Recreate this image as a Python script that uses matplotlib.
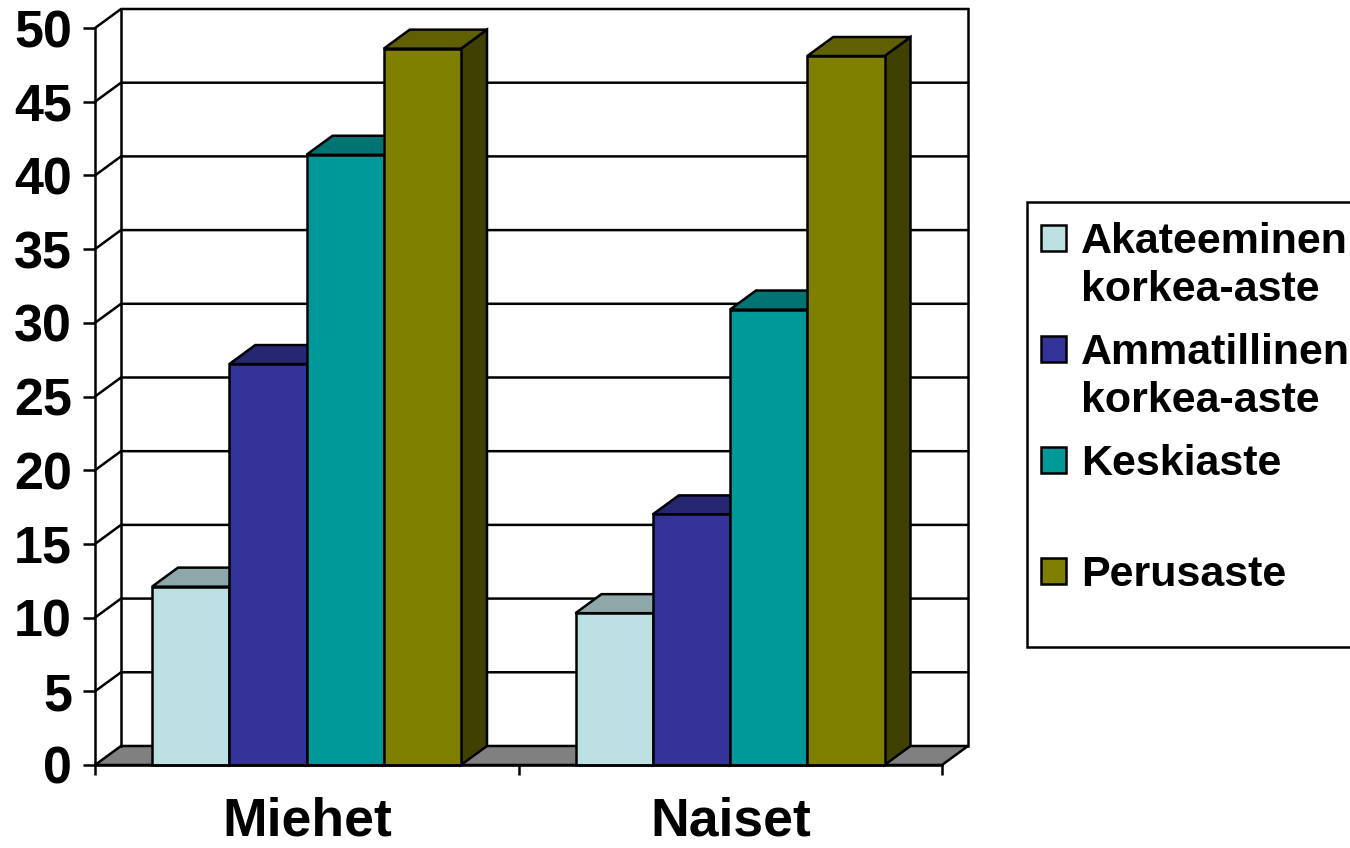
import matplotlib
matplotlib.use("Agg")
import matplotlib.pyplot as plt
from matplotlib.patches import Polygon, Rectangle

plt.rcParams['font.family'] = ['Liberation Sans', 'DejaVu Sans']

categories = ['Miehet', 'Naiset']
series = ['Akateeminen\nkorkea-aste', 'Ammatillinen\nkorkea-aste', 'Keskiaste', 'Perusaste']
values = {
    'Akateeminen\nkorkea-aste': [12.1, 10.3],
    'Ammatillinen\nkorkea-aste': [27.2, 17.0],
    'Keskiaste': [41.4, 30.9],
    'Perusaste': [48.6, 48.1],
}
y_ticks = [0, 5, 10, 15, 20, 25, 30, 35, 40, 45, 50]

front_colors = ['#BDE0E3', '#333399', '#009999', '#808000']
top_colors = ['#8EA8AA', '#262673', '#007373', '#606000']
side_colors = ['#5E7071', '#1A1A4D', '#004D4D', '#404000']

W, H = 1350, 848
fig = plt.figure(figsize=(W / 100, H / 100), dpi=100)

# pixel geometry of the 3d box
x_front0, x_front1 = 95, 942
y_zero, y_top_back = 765, 9
depth_px = (26, 19)
n_cat = len(categories)
px_per_cat = (x_front1 - x_front0) / n_cat
ymax = y_ticks[-1]
px_per_unit = (y_zero - 29) / ymax
dx = depth_px[0] / px_per_cat
dy = depth_px[1] / px_per_unit

ax = fig.add_axes([x_front0 / W, (H - y_zero) / H,
                   (x_front1 + depth_px[0] - x_front0) / W,
                   (y_zero - y_top_back) / H])
ax.set_xlim(0, n_cat + dx)
ax.set_ylim(0, ymax + dy)

lw = 1.8
# floor
ax.add_patch(Polygon([(0, 0), (n_cat, 0), (n_cat + dx, dy), (dx, dy)],
                     closed=True, facecolor='#808080', edgecolor='black',
                     linewidth=lw, zorder=1, clip_on=False))
# back wall + side wall lines
for v in y_ticks[1:]:
    ax.plot([0, dx, n_cat + dx], [v, v + dy, v + dy], color='black', lw=lw,
            zorder=1, clip_on=False, solid_capstyle='projecting')
ax.plot([dx, dx], [dy, ymax + dy], color='black', lw=lw, zorder=1, clip_on=False)
ax.plot([n_cat + dx, n_cat + dx], [dy, ymax + dy], color='black', lw=lw,
        zorder=1, clip_on=False)

# bars
gap = 57 / px_per_cat
bw = 77.25 / px_per_cat
for ci in range(n_cat):
    for si, s in enumerate(series):
        h = values[s][ci]
        x0 = ci + gap + si * bw
        z = 3 + ci * 10 + si
        ax.add_patch(Polygon([(x0 + bw, 0), (x0 + bw + dx, dy), (x0 + bw + dx, h + dy), (x0 + bw, h)],
                             closed=True, facecolor=side_colors[si], edgecolor='black',
                             linewidth=lw, zorder=z, clip_on=False))
        ax.add_patch(Polygon([(x0, h), (x0 + bw, h), (x0 + bw + dx, h + dy), (x0 + dx, h + dy)],
                             closed=True, facecolor=top_colors[si], edgecolor='black',
                             linewidth=lw, zorder=z, clip_on=False, joinstyle='miter'))
        ax.add_patch(Rectangle((x0, 0), bw, h, facecolor=front_colors[si],
                               edgecolor='black', linewidth=lw, zorder=z, clip_on=False))

# axes
for side in ['top', 'right']:
    ax.spines[side].set_visible(False)
ax.spines['left'].set_bounds(0, ymax)
ax.spines['bottom'].set_bounds(0, n_cat)
for side in ['left', 'bottom']:
    ax.spines[side].set_linewidth(lw)
    ax.spines[side].set_zorder(30)
ax.set_facecolor('none')

ax.set_yticks(y_ticks)
ax.set_yticklabels([str(t) for t in y_ticks], fontsize=37.5, fontweight='bold')
ax.tick_params(axis='y', length=8.5, width=lw, pad=8)

ax.set_xticks(range(n_cat + 1))
ax.set_xticklabels([])
ax.tick_params(axis='x', which='major', length=7.5, width=lw)
ax.set_xticks([i + 0.5 for i in range(n_cat)], categories, minor=True)
ax.tick_params(axis='x', which='minor', length=0, pad=23, labelsize=38.5)
for lab in ax.get_xticklabels(minor=True):
    lab.set_fontweight('bold')

# legend
def fx(px):
    return px / W

def fy(py):
    return 1 - py / H

fig.patches.append(Rectangle((fx(1027), fy(647)), fx(400), (647 - 202) / H,
                             transform=fig.transFigure, facecolor='white',
                             edgecolor='black', linewidth=lw))
square_centers = [238, 349, 460, 571]
for si, s in enumerate(series):
    cy = square_centers[si]
    fig.patches.append(Rectangle((fx(1041), fy(cy + 13)), fx(25), 26 / H,
                                 transform=fig.transFigure, facecolor=front_colors[si],
                                 edgecolor='black', linewidth=lw))
    for li, line in enumerate(s.split('\n')):
        fig.text(fx(1081), fy(cy + 15 + li * 48), line, fontsize=31,
                 fontweight='bold', va='baseline', ha='left')

fig.savefig('out.png', dpi=100)
